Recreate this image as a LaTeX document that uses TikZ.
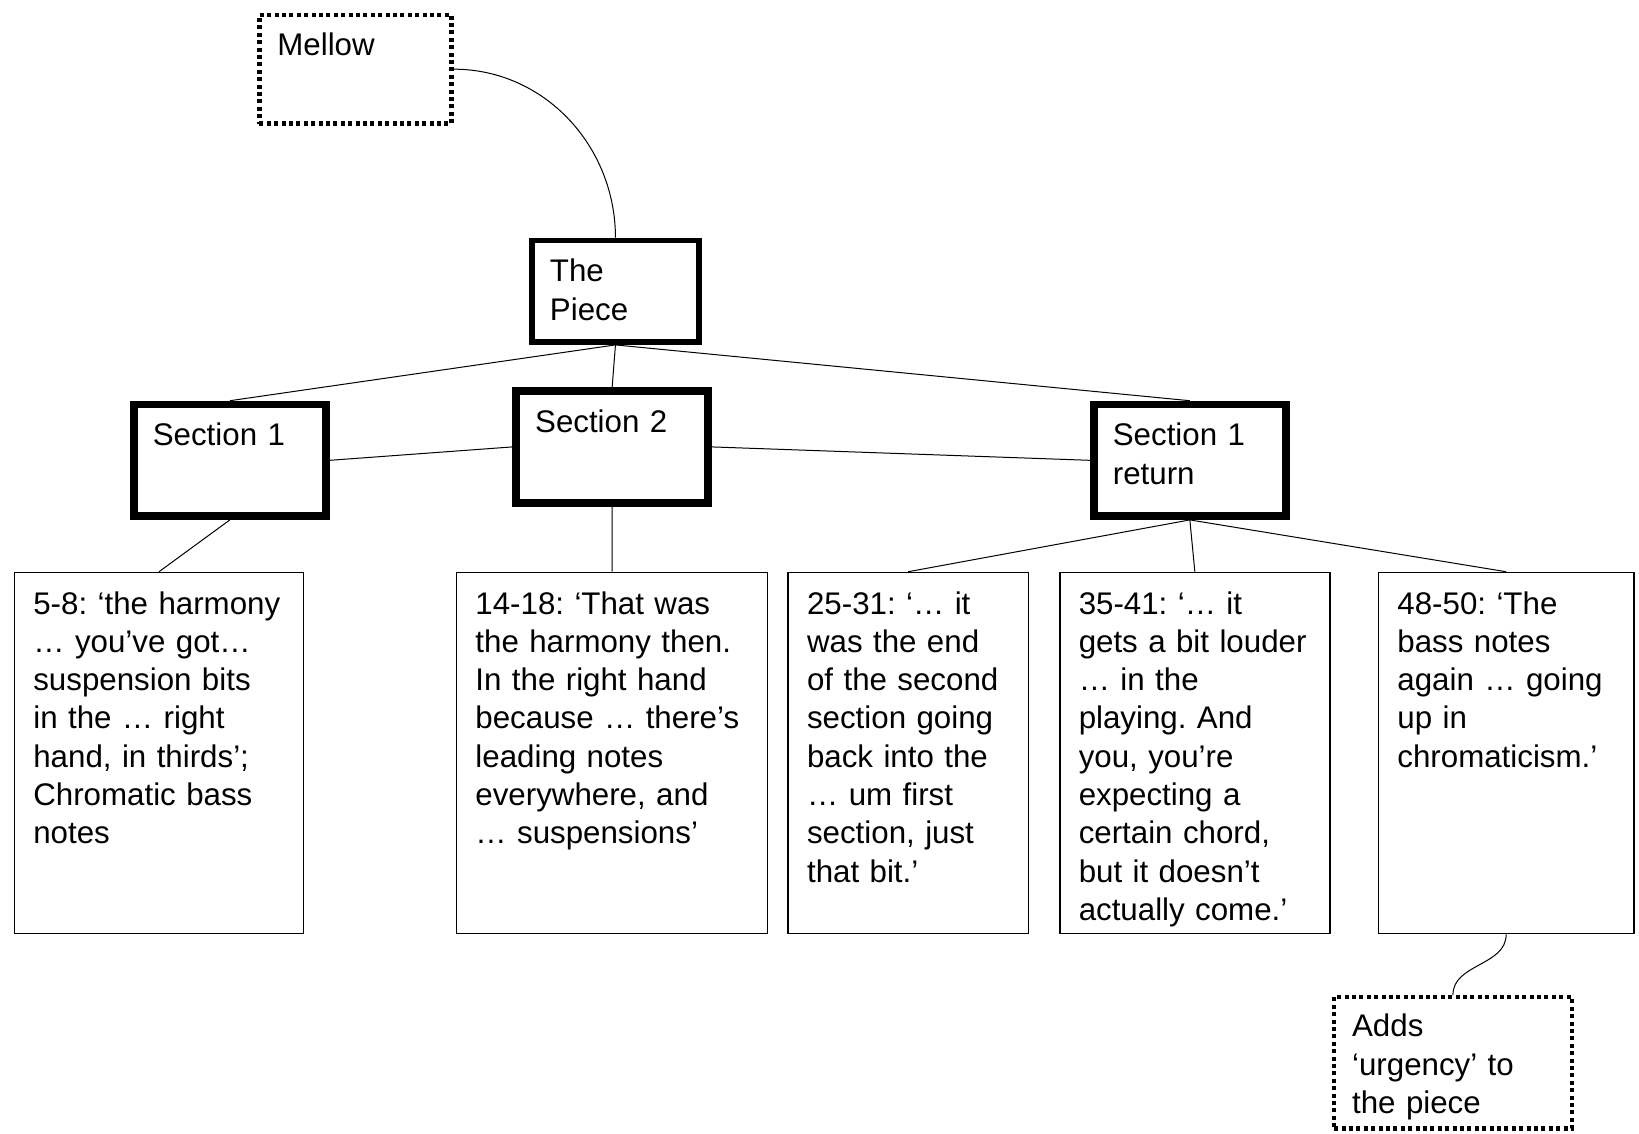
\documentclass[tikz,border=0pt]{standalone}
\usepackage{fontspec}
\setmainfont{Liberation Sans}
\frenchspacing
\hyphenpenalty=10000
\tikzset{
	every node/.style={font=\fontsize{8.9pt}{10.9pt}\selectfont},
	link/.style={line width=0.1mm},
	piecebox/.style={draw, line width=0.57mm, anchor=north west, align=left, inner ysep=0pt, inner xsep=1.78mm, text width=13.1mm, text height=4.14mm, text depth=6.01mm},
	sectionbox/.style={draw, line width=0.77mm, anchor=north west, align=left, inner ysep=0pt, inner xsep=1.9mm, text width=15.4mm, text height=4.14mm, text depth=7.01mm},
	quotebox/.style={draw, line width=0.15mm, anchor=north west, align=left, inner ysep=0pt, inner xsep=1.9mm, text height=4.16mm, text depth=31.96mm},
	notebox/.style={draw, line width=0.42mm, dash pattern=on 0.4mm off 0.34mm, anchor=north west, align=left, inner ysep=0pt, inner xsep=1.8mm},
}

\begin{document}
\begin{tikzpicture}
		%%%%% START %%%%%
		\useasboundingbox (0, 0) rectangle (16.39, -11.33);
		
		\node[notebox, text width=15.6mm, text height=4.05mm, text depth=6.82mm] (mellow) at (2.573, -0.127) {Mellow};
		\node[piecebox] (piece) at (5.293, -2.377) {The\\Piece};
		
		\node[sectionbox] (sec1) at (1.300, -4.007) {Section 1};
		\node[sectionbox] (sec2) at (5.123, -3.873) {Section 2};
		\node[sectionbox] (ret) at (10.900, -4.007) {Section 1\\return};
		
		\node[quotebox, text width=25.13mm] (q58) at (0.136, -5.717) {5-8: ‘the harmony\\… you’ve got…\\suspension bits\\in the … right\\hand, in thirds’;\\Chromatic bass\\notes};
		\node[quotebox, text width=27.31mm] (q1418) at (4.557, -5.717) {14-18: ‘That was\\the harmony then.\\In the right hand\\because … there’s\\leading notes\\everywhere, and\\… suspensions’};
		\node[quotebox, text width=20.22mm] (q2531) at (7.873, -5.717) {25-31: ‘… it\\was the end\\of the second\\section going\\back into the\\… um first\\section, just\\that bit.’};
		\node[quotebox, text width=23.22mm] (q3541) at (10.590, -5.717) {35-41: ‘… it\\gets a bit louder\\… in the\\playing. And\\you, you’re\\expecting a\\certain chord,\\but it doesn’t\\actually come.’};
		\node[quotebox, text width=21.74mm] (q4850) at (13.777, -5.717) {48-50: ‘The\\bass notes\\again … going\\up in\\chromaticism.’};
		
		\node[notebox, text width=20.16mm, text height=3.98mm, text depth=9.15mm] (adds) at (13.320, -9.950) {Adds\\‘urgency’ to\\the piece};
		
		\draw[link] (mellow.east) to[out=0, in=90] (piece.north);
		\draw[link] (piece.south) -- (sec1.north);
		\draw[link] (piece.south) -- (sec2.north);
		\draw[link] (piece.south) -- (ret.north);
		\draw[link] (sec1.east) -- (sec2.west);
		\draw[link] (sec2.east) -- (ret.west);
		
		\draw[link] (sec1.south) -- (q58.north);
		\draw[link] (sec2.south) -- (q1418.north);
		\draw[link] (ret.south) -- (q2531.north);
		\draw[link] (ret.south) -- (q3541.north);
		\draw[link] (ret.south) -- (q4850.north);
		
		\draw[link] (q4850.south) to[out=-90, in=90] (adds.north);
		
		%%%%% END %%%%%
	\end{tikzpicture}
\end{document}
